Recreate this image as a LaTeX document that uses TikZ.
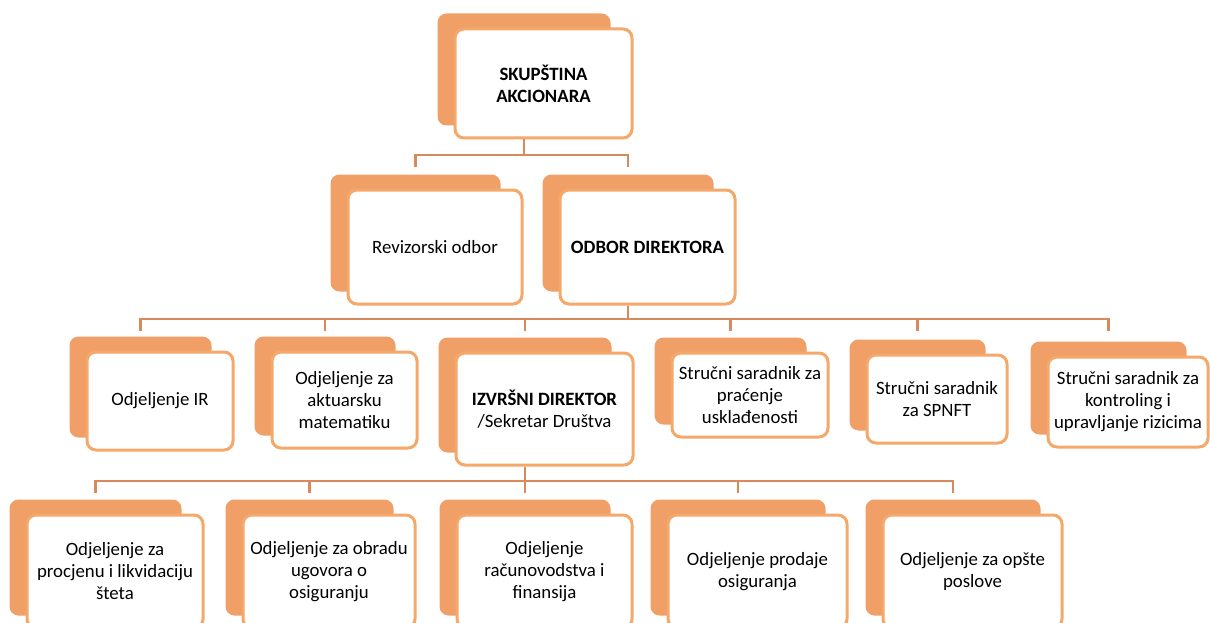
\documentclass[tikz,border=0pt]{standalone}
\usepackage{fontspec}
\setmainfont{Carlito}
\usetikzlibrary{backgrounds}
\definecolor{backorange}{HTML}{F0A066}
\definecolor{rimorange}{HTML}{F4A86A}
\definecolor{linkorange}{HTML}{D98A5C}

\begin{document}
\begin{tikzpicture}[x=1pt,y=-1pt,
   unit/.style={draw=rimorange, line width=3pt, fill=white, rounded corners=9pt,
                align=center, inner sep=0pt, font=\fontsize{18.8}{22}\selectfont},
   link/.style={draw=linkorange, line width=2.8pt}]
   \clip (0,0) rectangle (1210,623);
   % assembly and boards
   \node[unit, minimum width=177pt, minimum height=109pt] (skup) at (543.5,83.5)
        {\textbf{SKUPŠTINA}\\\textbf{AKCIONARA}};
   \node[unit, minimum width=174pt, minimum height=114pt] (rev) at (435,247)
        {Revizorski odbor};
   \node[unit, minimum width=175pt, minimum height=114pt] (odbor) at (647.5,247)
        {\textbf{ODBOR DIREKTORA}};
   % units under the board
   \node[unit, minimum width=146pt, minimum height=98pt] (ir) at (160,401)
        {Odjeljenje IR};
   \node[unit, minimum width=145pt, minimum height=96pt] (akt) at (344.5,400)
        {Odjeljenje za\\aktuarsku\\matematiku};
   \node[unit, minimum width=177pt, minimum height=112pt] (izv) at (544.5,409)
        {\textbf{IZVRŠNI DIREKTOR}\\/Sekretar Društva};
   \node[unit, minimum width=156pt, minimum height=84pt] (prac) at (750,395)
        {Stručni saradnik za\\praćenje\\usklađenosti};
   \node[unit, minimum width=140pt, minimum height=88pt] (spnft) at (937,399)
        {Stručni saradnik\\za SPNFT};
   \node[unit, minimum width=160pt, minimum height=90pt] (kontr) at (1128,402)
        {Stručni saradnik za\\kontroling i\\upravljanje rizicima};
   % departments
   \node[unit, minimum width=176pt, minimum height=113pt] (steta) at (115,571.5)
        {Odjeljenje za\\procjenu i likvidaciju\\šteta};
   \node[unit, minimum width=172pt, minimum height=113pt] (ugov) at (329,571.5)
        {Odjeljenje za obradu\\ugovora o\\osiguranju};
   \node[unit, minimum width=175pt, minimum height=113pt] (racun) at (544.5,571.5)
        {Odjeljenje\\računovodstva i\\finansija};
   \node[unit, minimum width=179pt, minimum height=113pt] (prod) at (757.5,571.5)
        {Odjeljenje prodaje\\osiguranja};
   \node[unit, minimum width=179pt, minimum height=113pt] (opste) at (972.5,571.5)
        {Odjeljenje za opšte\\poslove};
   % orange sheets behind the boxes
   \begin{scope}[on background layer]
      \foreach \n in {skup,rev,odbor,ir,akt,izv,prac,spnft,kontr,steta,ugov,racun,prod,opste}
         \fill[backorange, rounded corners=9pt]
              ([shift={(-16pt,14pt)}]\n.north west) rectangle ([shift={(-23pt,14pt)}]\n.south east);
   \end{scope}
   % connectors
   \coordinate (bus1) at (0,155);
   \coordinate (bus2) at (0,319);
   \coordinate (bus3) at (0,481);
   \foreach \c in {rev,odbor}
      \draw[link] ([xshift=-19.5pt]skup.south) |- ([xshift=-19.5pt]\c.north |- bus1) -- ++(0,12);
   \foreach \c in {ir,akt,izv,prac,spnft,kontr}
      \draw[link] ([xshift=-19.5pt]odbor.south) |- ([xshift=-19.5pt]\c.north |- bus2) -- ++(0,12);
   \foreach \c in {steta,ugov,racun,prod,opste}
      \draw[link] ([xshift=-19.5pt]izv.south) |- ([xshift=-19.5pt]\c.north |- bus3) -- ++(0,12);
\end{tikzpicture}
\end{document}
